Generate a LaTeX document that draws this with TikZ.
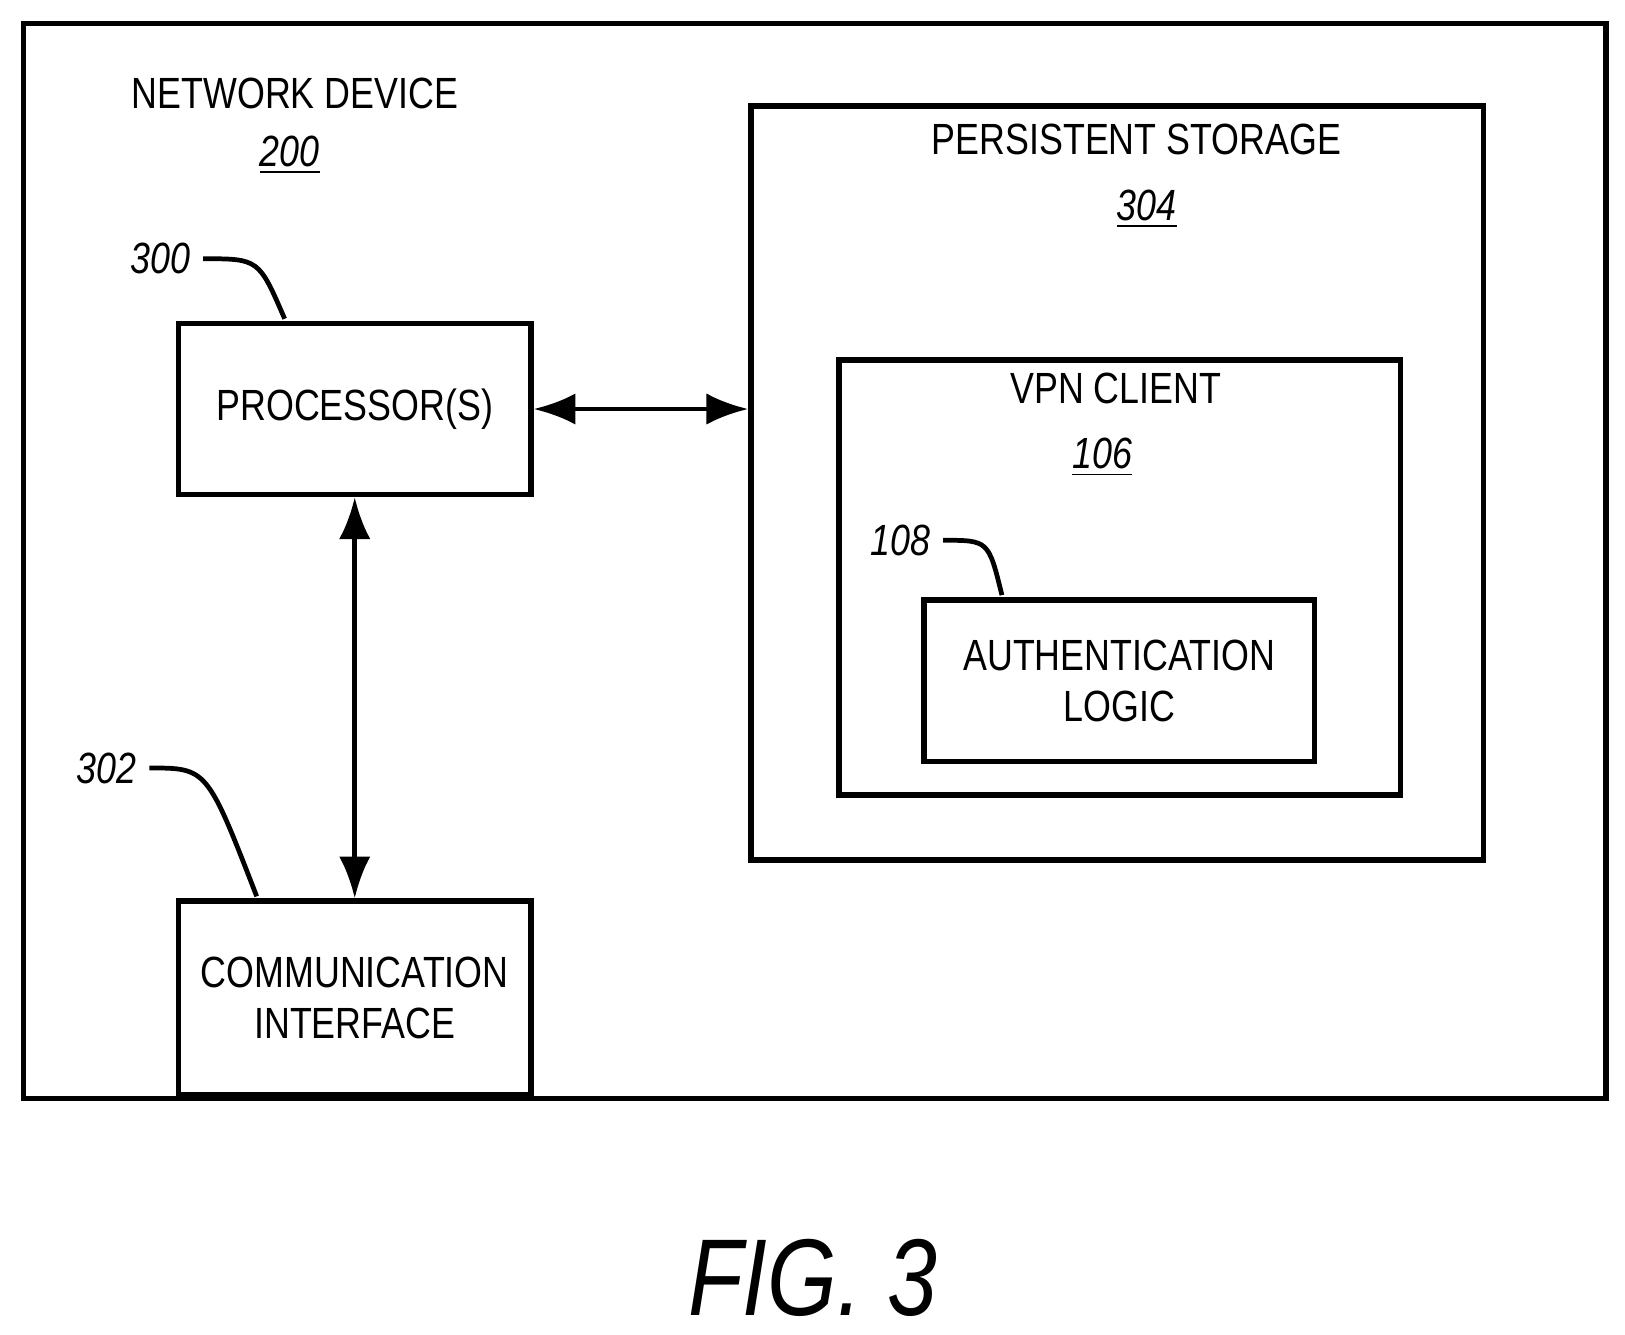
\documentclass[tikz,border=0pt]{standalone}
\usepackage{fontspec}
\setmainfont{Liberation Sans}[FakeStretch=0.82]
\usetikzlibrary{positioning,arrows.meta,calc}
\tikzset{>={Latex[scale=1.3]}}
\tikzset{
  block/.style = {draw, line width=1.5pt, inner sep=0pt},
  lbl/.style = {font=\fontsize{12}{14}\selectfont, align=center},
  ref/.style = {font=\fontsize{12}{14}\selectfont\itshape},
  lead/.style = {line width=1.3pt}
}
\newcommand{\refnum}[1]{\underline{#1}}

\begin{document}
\begin{tikzpicture}[x=0.01cm, y=-0.01cm]
        \useasboundingbox (0,0) rectangle (1570,1289);
        \node[block, minimum width=15.28cm, minimum height=10.38cm, anchor=north west] (dev) at (20,20) {}; %outer box
        \node[lbl] (devname) at (285,90) {NETWORK DEVICE};
        \node[ref] (devnum) at (280,150) {\refnum{200}};

        \node[block, minimum width=7.07cm, minimum height=7.28cm, anchor=north west] (stor) at (723,100) {};
        \node[lbl] (storname) at (1098,135) {PERSISTENT STORAGE};
        \node[ref] (stornum) at (1108,202) {\refnum{304}};

        \node[block, minimum width=5.42cm, minimum height=4.2cm, anchor=north west] (vpn) at (808,345) {};
        \node[lbl] (vpnname) at (1078,375) {VPN CLIENT};
        \node[ref] (vpnnum) at (1065,442) {\refnum{106}};

        \node[block, lbl, minimum width=3.77cm, minimum height=1.56cm, anchor=north west] (auth) at (890,577) {AUTHENTICATION\\LOGIC};
        \node[ref] (n108) at (870,522) {108};

        \node[block, lbl, minimum width=3.4cm, minimum height=1.65cm, anchor=north west] (proc) at (170,310) {PROCESSOR(S)};
        \node[ref] (n300) at (155,250) {300};

        \node[block, lbl, minimum width=3.4cm, minimum height=1.87cm, anchor=north west] (comm) at (170,868) {COMMUNICATION\\INTERFACE};
        \node[ref] (n302) at (103,742) {302};

        \node[font=\fontsize{30}{34}\selectfont\itshape] (fig) at (785,1235) {FIG. 3};

        \draw[lead] (n108.east) .. controls (955,522) .. (968,575);
        \draw[lead] (n300.east) .. controls (250,250) .. (275,308);
        \draw[lead] (n302.east) .. controls (200,742) .. (248,866);

        \draw[<->, line width=1.3pt] (proc.east) -- (proc.east -| stor.west);
        \draw[<->, line width=1.3pt] (proc.south) -- (comm.north);
      \end{tikzpicture}
\end{document}
